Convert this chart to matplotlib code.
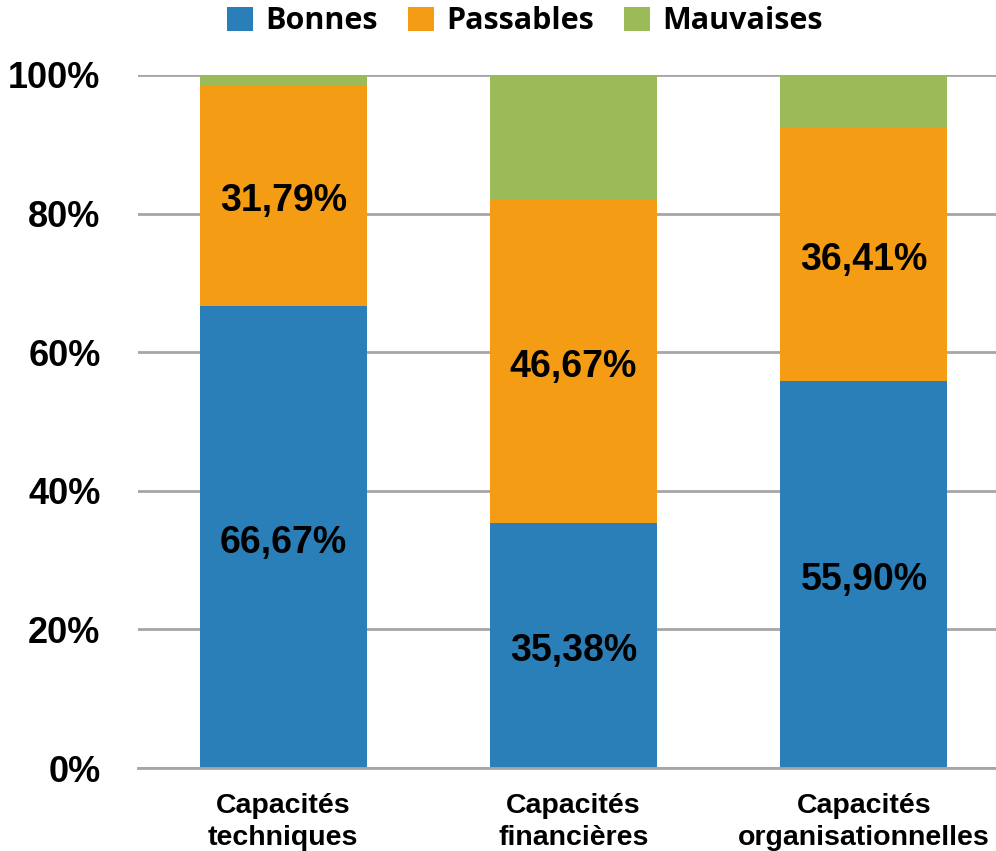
import numpy as np
import matplotlib.pyplot as plt
from matplotlib.ticker import FuncFormatter

categories = ["Capacités\ntechniques", "Capacités\nfinancières", "Capacités\norganisationnelles"]
bonnes = [66.67, 35.38, 55.90]
passables = [31.79, 46.67, 36.41]
mauvaises = [1.54, 17.95, 7.69]

colors = {"Bonnes": "#2B7FB8", "Passables": "#F39C14", "Mauvaises": "#9BBB59"}

plt.rcParams['font.family'] = ['Liberation Sans', 'DejaVu Sans']
plt.rcParams['font.weight'] = 'bold'

fig = plt.figure(figsize=(9.96, 8.51), dpi=100)
ax = fig.add_axes([0.1386, 0.0975, 0.8614, 0.8145])

x = np.arange(len(categories))
w = 0.575
b1 = ax.bar(x, bonnes, w, color=colors["Bonnes"], label="Bonnes", zorder=2)
b2 = ax.bar(x, passables, w, bottom=bonnes, color=colors["Passables"], label="Passables", zorder=2)
bottom3 = np.array(bonnes) + np.array(passables)
b3 = ax.bar(x, mauvaises, w, bottom=bottom3, color=colors["Mauvaises"], label="Mauvaises", zorder=2)

fmt = lambda v: f"{v:.2f}".replace(".", ",") + "%"
for bars, vals in [(b1, bonnes), (b2, passables)]:
    lbls = ax.bar_label(bars, labels=[fmt(v) for v in vals], label_type='center',
                        fontsize=27, fontweight='bold')
    for t in lbls:
        t.xyann = (0, -4)

ax.set_xlim(-0.5, 2.455)
ax.set_ylim(0, 100)
ax.set_yticks(range(0, 101, 20))
ax.yaxis.set_major_formatter(FuncFormatter(lambda v, p: f"{int(v)}%"))
ax.grid(axis='y', color='#a6a6a6', linewidth=2, zorder=0)
ax.set_axisbelow(True)
for s in ['left', 'right', 'top']:
    ax.spines[s].set_visible(False)
ax.spines['bottom'].set_color('#a6a6a6')
ax.spines['bottom'].set_linewidth(2)
ax.tick_params(axis='y', length=0, pad=27, labelsize=26)
ax.tick_params(axis='x', length=0, pad=18, labelsize=20.5)
ax.set_xticks(x)
ax.set_xticklabels(categories, linespacing=1.3)

fig.legend(handles=[b1, b2, b3], loc='center', bbox_to_anchor=(0.527, 0.975), ncol=3,
           frameon=False, prop={'family': 'Open Sans', 'weight': 'bold', 'size': 22},
           handlelength=0.85, handleheight=0.85, handletextpad=0.4, columnspacing=1.0)

fig.savefig("out.png", dpi=100)
